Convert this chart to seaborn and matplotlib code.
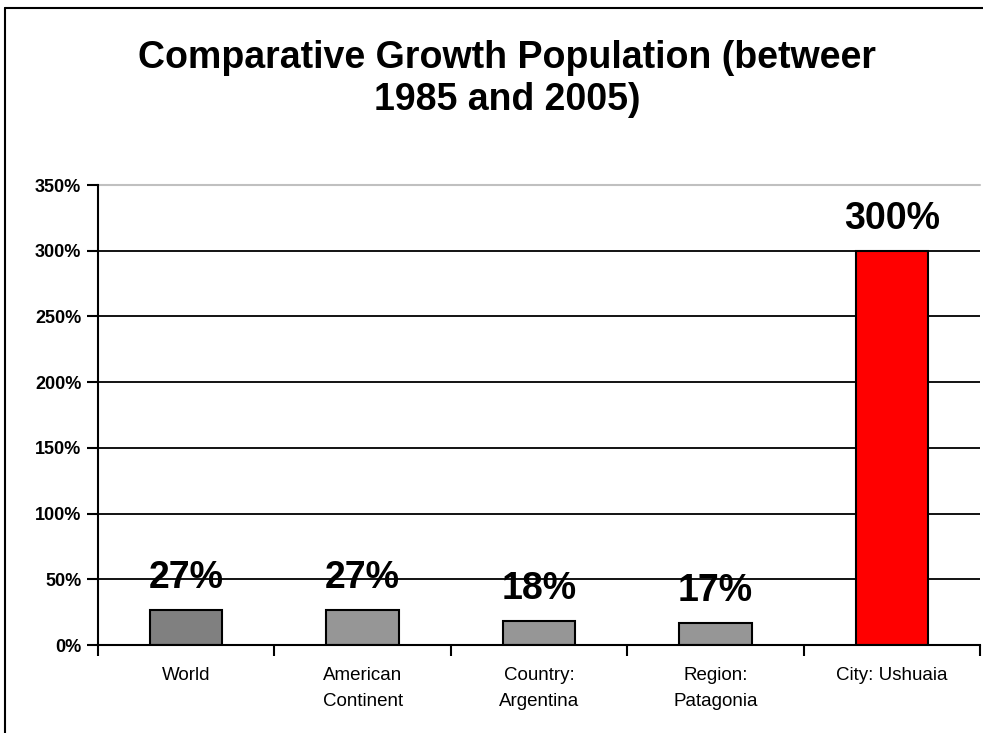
import matplotlib
matplotlib.use("Agg")
import matplotlib.pyplot as plt
from matplotlib.lines import Line2D
from matplotlib.ticker import FixedLocator, PercentFormatter
import seaborn as sns

categories = ["World", "American\nContinent", "Country:\nArgentina", "Region:\nPatagonia", "City: Ushuaia"]
growth = [27, 27, 18, 17, 300]
labels = ["27%", "27%", "18%", "17%", "300%"]
colors = ["#808080", "#969696", "#969696", "#969696", "#FF0000"]

sns.set_style("white", {"text.color": "black", "xtick.color": "black", "ytick.color": "black"})
plt.rcParams['font.family'] = ['Liberation Sans', 'DejaVu Sans']

fig = plt.figure(figsize=(9.83, 7.33), dpi=100)
ax = fig.add_axes([98 / 983, 1 - 645 / 733, 882 / 983, 460 / 733])

sns.barplot(x=categories, y=growth, hue=categories, palette=colors, width=0.41,
            edgecolor="black", linewidth=1.5, legend=False, ax=ax, saturation=1)

ax.set_xlim(-0.5, 4.5)
ax.set_ylim(0, 350)
ax.set_yticks(range(0, 351, 50))
ax.yaxis.set_major_formatter(PercentFormatter(decimals=0))
for lbl in ax.get_yticklabels():
    lbl.set_fontweight("bold")
ax.tick_params(axis="y", labelsize=13, length=8, width=1.5, direction="out", left=True, pad=4,
               colors="black")
ax.tick_params(axis="x", which="major", labelsize=13.5, length=0, pad=16, colors="black")
ax.xaxis.set_minor_locator(FixedLocator([-0.5, 0.5, 1.5, 2.5, 3.5, 4.5]))
ax.tick_params(axis="x", which="minor", length=8, width=1.5, direction="out", bottom=True)
for lbl in ax.get_xticklabels():
    lbl.set_linespacing(1.7)

# gridlines
for v in range(50, 301, 50):
    ax.axhline(v, color="black", linewidth=1.3, zorder=0)
ax.axhline(350, color="#c0c0c0", linewidth=1.5, zorder=0, clip_on=False)

sns.despine(ax=ax, top=True, right=True)
ax.spines["left"].set_linewidth(1.5)
ax.spines["bottom"].set_linewidth(1.5)
ax.spines["left"].set_color("black")
ax.spines["bottom"].set_color("black")

for i, (v, t) in enumerate(zip(growth, labels)):
    ax.annotate(t, (i, v), xytext=(0, 10), textcoords="offset points",
                ha="center", va="bottom", fontsize=27, fontweight="bold", color="black")

fig.text(507 / 983, 1 - 79 / 733, "Comparative Growth Population (betweer\n1985 and 2005)",
         ha="center", va="center", fontsize=27, fontweight="bold", linespacing=1.25,
         color="black")

# outer frame
fig.add_artist(Line2D([5 / 983, 1.0], [1 - 8 / 733, 1 - 8 / 733], color="black", linewidth=1.5))
fig.add_artist(Line2D([5 / 983, 5 / 983], [0, 1 - 8 / 733], color="black", linewidth=1.5))

fig.savefig("out.png", dpi=100)
